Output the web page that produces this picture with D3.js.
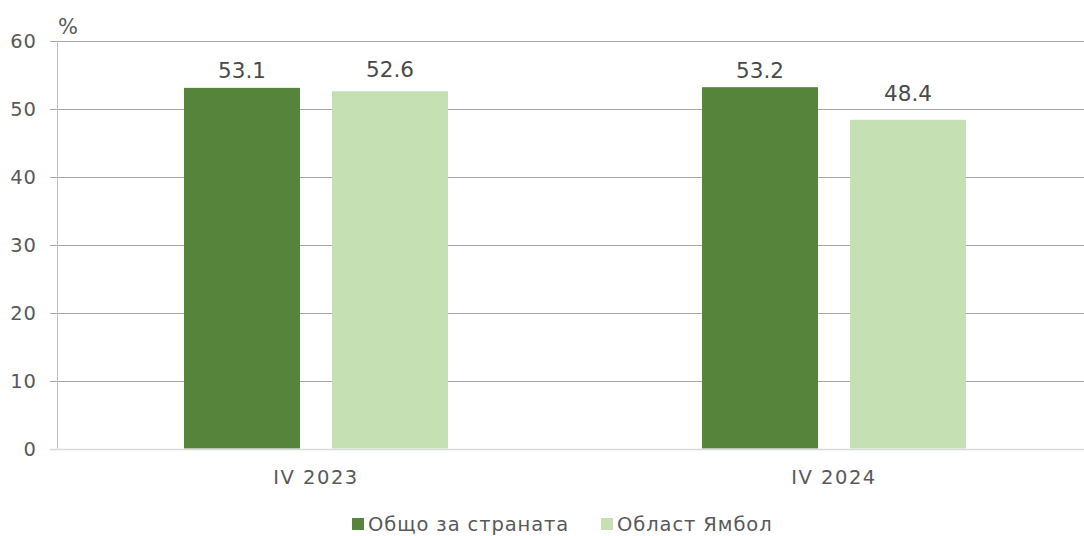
<!DOCTYPE html>
<html>
<head>
<meta charset="utf-8">
<script src="https://cdn.jsdelivr.net/npm/d3@7"></script>
<style>
  body { margin: 0; background: #fff; }
  svg { display: block; font-family: "DejaVu Sans", Verdana, sans-serif; }
</style>
</head>
<body>
<div id="chart"></div>
<script>
// Employment rate, Q4 - country total vs Yambol region
const categories = ["IV 2023", "IV 2024"];
const series = ["Общо за страната", "Област Ямбол"];
const countryTotal = [53.1, 53.2];
const yambol = [52.6, 48.4];
const yTicks = [0, 10, 20, 30, 40, 50, 60];
const colors = ["#56843a", "#c5e0b3"];

// label gap above each bar (labels were nudged by hand in the original)
const labelGap = [[10, 14], [9, 19]];

const data = categories.map((c, i) => ({
    cat: c,
    values: [
        {key: series[0], value: countryTotal[i], gap: labelGap[i][0]},
        {key: series[1], value: yambol[i], gap: labelGap[i][1]}
    ]
}));

const width = 1084,
      height = 536,
      margin = ({ top: 41, right: -9, bottom: 87.5, left: 57 });

const svg = d3.select("#chart")
    .append("svg")
    .attr("width", width)
    .attr("height", height);

const x0 = d3.scaleBand()
    .domain(categories)
    .range([margin.left, width - margin.right])
    .padding(0);

const x1 = d3.scaleBand()
    .domain(series)
    .range([0, x0.bandwidth()])
    .paddingInner(0.2162)
    .paddingOuter(0.858);

const y = d3.scaleLinear()
    .domain([0, 60])
    .range([height - margin.bottom, margin.top]);

// gridlines
svg.append("g")
    .selectAll("line")
    .data(yTicks.filter(d => d > 0))
    .join("line")
    .attr("x1", margin.left - 7)
    .attr("x2", width)
    .attr("y1", d => Math.round(y(d)) + 0.5)
    .attr("y2", d => Math.round(y(d)) + 0.5)
    .attr("stroke", "#a6a6a6");

// y tick labels
svg.append("g")
    .selectAll("text")
    .data(yTicks)
    .join("text")
    .attr("x", 37)
    .attr("y", d => y(d))
    .attr("dy", "0.36em")
    .attr("text-anchor", "end")
    .style("font-size", "19.5px")
    .style("letter-spacing", "1px")
    .style("fill", "#595959")
    .text(d => d);

// "%" unit
svg.append("text")
    .attr("x", margin.left + 1)
    .attr("y", 34)
    .style("font-size", "21px")
    .style("fill", "#595959")
    .text("%");

// bars
const group = svg.selectAll(".grp")
    .data(data)
    .join("g")
    .attr("class", "grp")
    .attr("transform", d => `translate(${x0(d.cat)},0)`);

group.selectAll("rect")
    .data(d => d.values)
    .join("rect")
    .attr("x", d => x1(d.key))
    .attr("width", x1.bandwidth())
    .attr("y", d => y(d.value))
    .attr("height", d => y(0) - y(d.value))
    .attr("fill", (d, i) => colors[i]);

group.selectAll("text")
    .data(d => d.values)
    .join("text")
    .attr("x", d => x1(d.key) + x1.bandwidth() / 2)
    .attr("y", d => y(d.value) - d.gap)
    .attr("text-anchor", "middle")
    .style("font-size", "21.5px")
    .style("fill", "#4a4a4a")
    .text(d => d.value.toFixed(1));

// axis lines
svg.append("line")
    .attr("x1", margin.left - 7)
    .attr("x2", width)
    .attr("y1", Math.round(y(0)) + 0.5)
    .attr("y2", Math.round(y(0)) + 0.5)
    .attr("stroke", "#d9d9d9")
    .attr("stroke-width", 1.5);

svg.append("line")
    .attr("x1", margin.left + 0.5)
    .attr("x2", margin.left + 0.5)
    .attr("y1", y(60))
    .attr("y2", y(0))
    .attr("stroke", "#bfbfbf");

// x labels
svg.append("g")
    .selectAll("text")
    .data(categories)
    .join("text")
    .attr("x", d => x0(d) + x0.bandwidth() / 2)
    .attr("y", 484)
    .attr("text-anchor", "middle")
    .style("font-size", "19.5px")
    .style("letter-spacing", "1.5px")
    .style("fill", "#595959")
    .text(d => d);

// legend
const legendX = [352, 601];
const legend = svg.append("g")
    .selectAll("g")
    .data(series)
    .join("g")
    .attr("transform", (d, i) => `translate(${legendX[i]},518)`);

legend.append("rect")
    .attr("width", 12)
    .attr("height", 12)
    .attr("fill", (d, i) => colors[i]);

legend.append("text")
    .attr("x", 16)
    .attr("y", 13)
    .style("font-size", "19.5px")
    .style("letter-spacing", "0.9px")
    .style("fill", "#595959")
    .text(d => d);
</script>
</body>
</html>
